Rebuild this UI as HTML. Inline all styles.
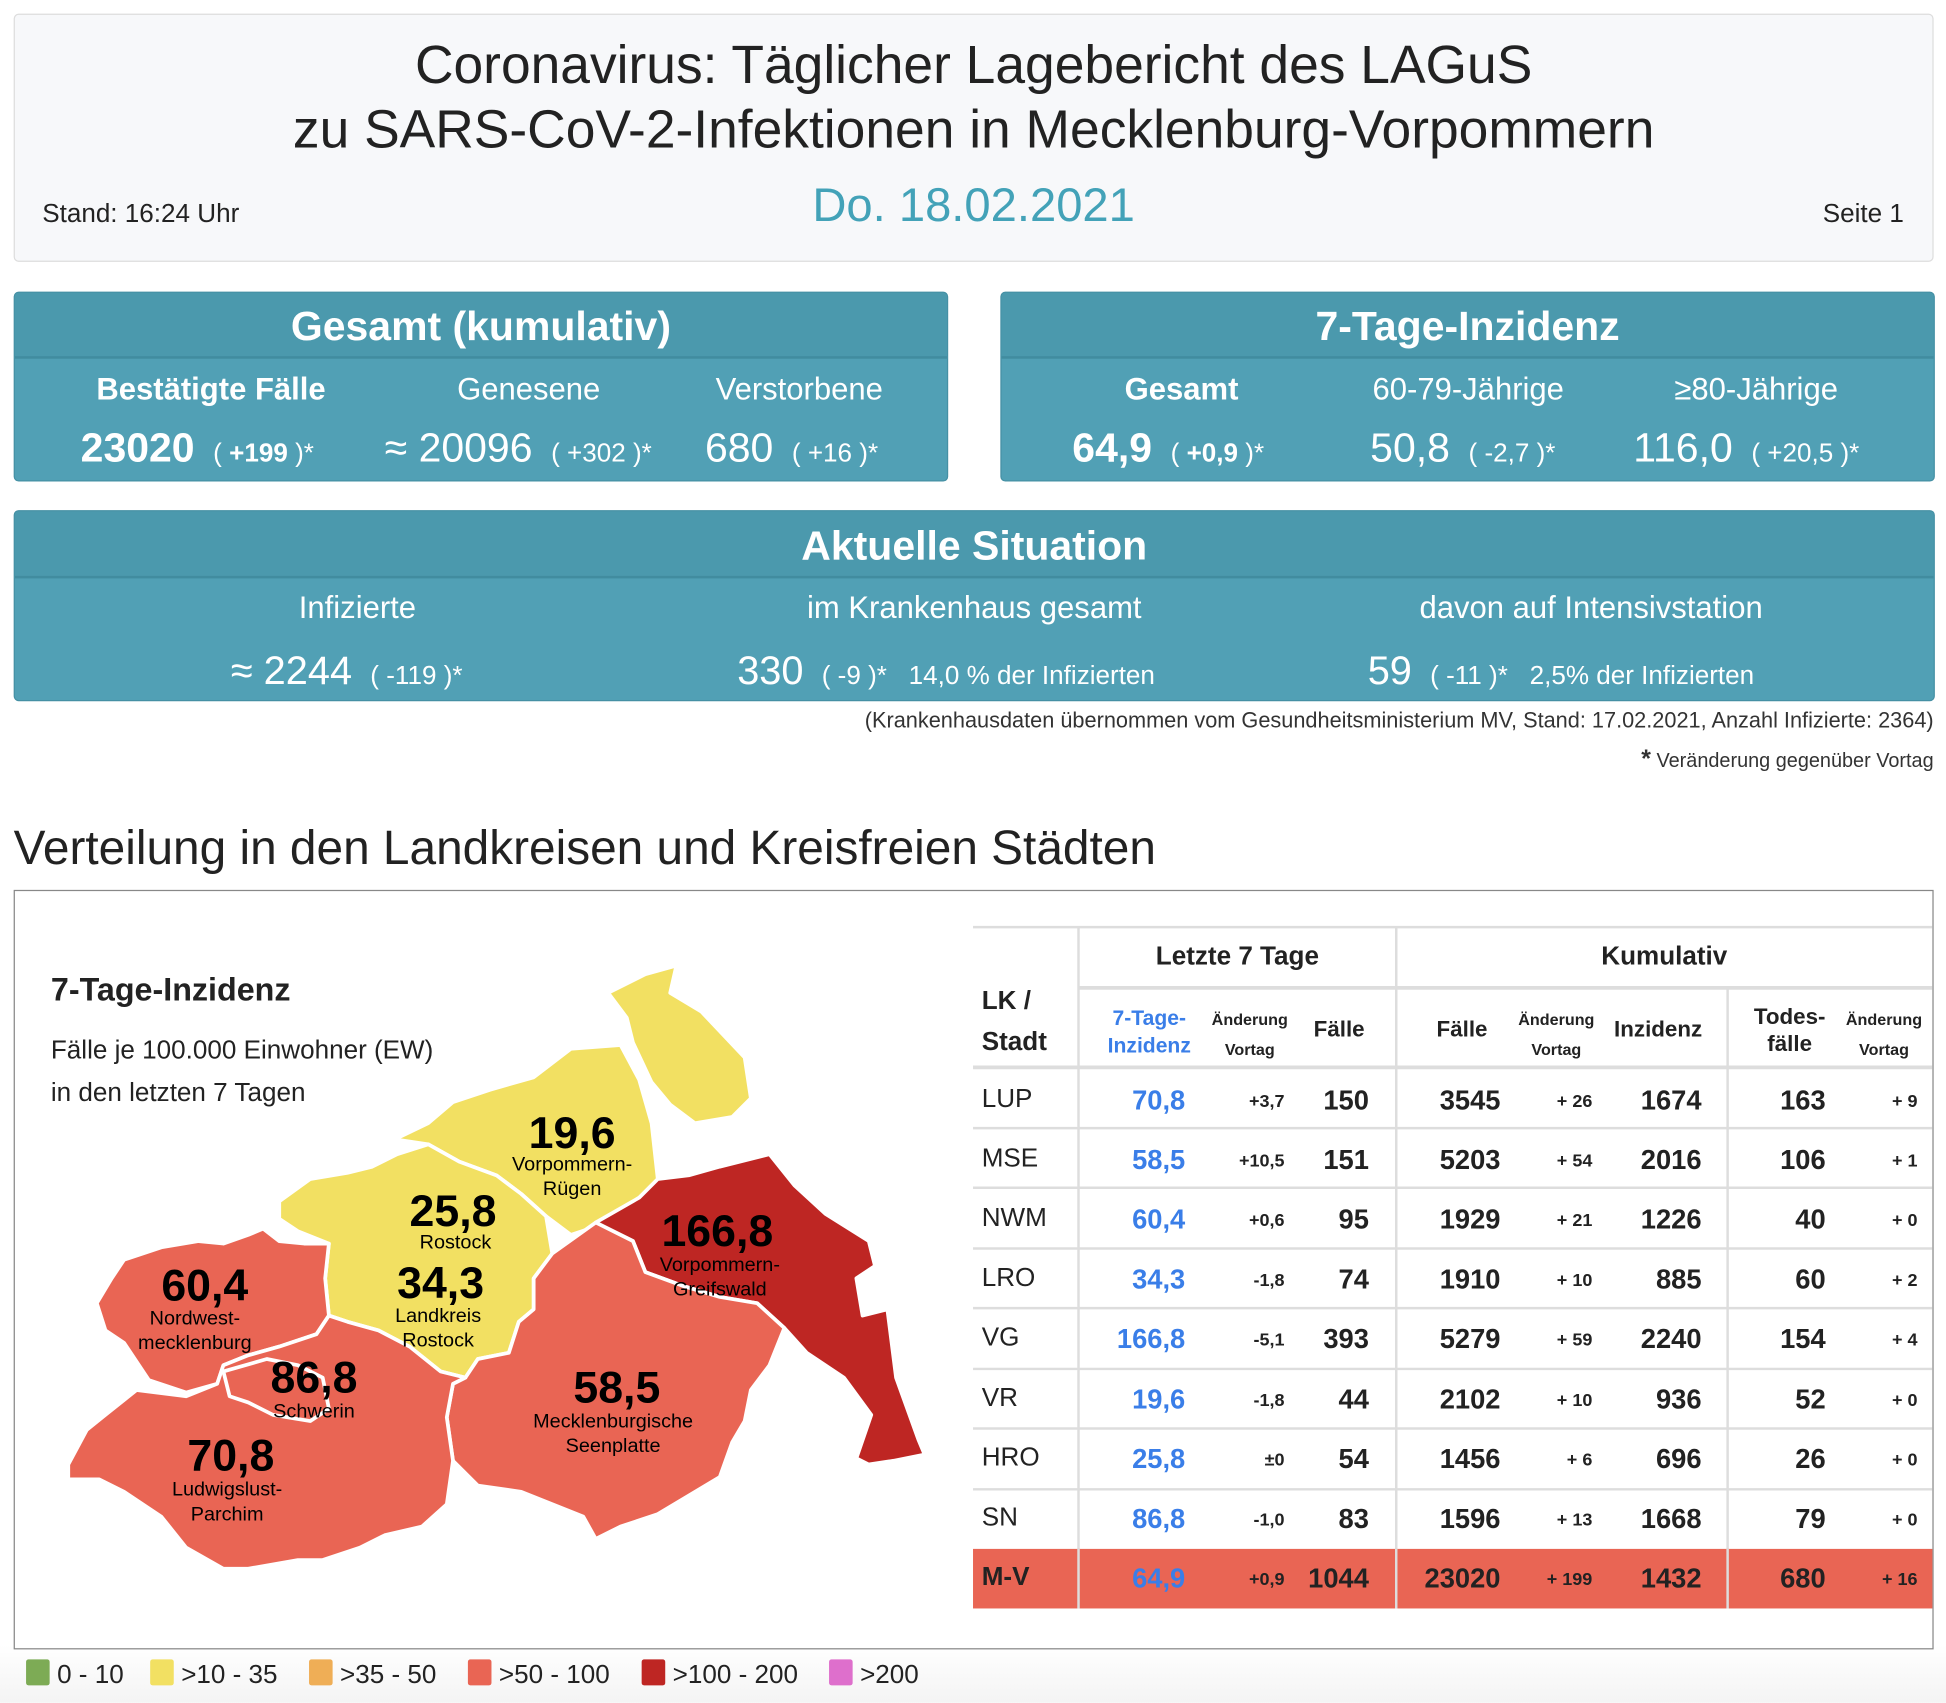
<!DOCTYPE html>
<html><head><meta charset="utf-8">
<style>
html,body{margin:0;padding:0;width:1946px;height:1702px;overflow:hidden;background:#fff;}
#w{position:absolute;left:0;top:0;width:1568px;height:1372px;transform:scale(1.2411);transform-origin:0 0;font-family:"Liberation Sans","DejaVu Sans",sans-serif;color:#222;background:linear-gradient(#fff 1325px,#f4f4f4 1372px);overflow:hidden;}
.a{position:absolute;white-space:nowrap;}
.box{position:absolute;background:#51a0b5;border-radius:4px;color:#fff;overflow:hidden;border:1px solid #4590a4;}
.hd{position:absolute;left:0;right:0;top:0;background:#4b99ad;border-bottom:2px solid #418c9f;text-align:center;font-weight:bold;font-size:33px;}
.c{position:absolute;text-align:center;white-space:nowrap;}
.t{position:absolute;white-space:nowrap;text-align:right;font-weight:bold;font-size:22px;}
.n{position:absolute;white-space:nowrap;text-align:right;font-size:14.5px;font-weight:bold;margin-top:-1px;}
.b{color:#3a7ee8;}
#rows{position:absolute;left:0;top:0;width:1568px;height:1372px;}
</style></head><body><div id="w">
<div class="a" style="left:11px;top:11px;width:1545px;height:198px;background:#f7f8fa;border:1px solid #ddd;border-radius:4px;"></div>
<div class="c" style="left:11px;width:1547px;top:27px;font-size:43px;line-height:52px;color:#222;">Coronavirus: Täglicher Lagebericht des LAGuS<br>zu SARS-CoV-2-Infektionen in Mecklenburg-Vorpommern</div>
<div class="c" style="left:11px;width:1547px;top:145px;font-size:38px;color:#43a2b8;">Do. 18.02.2021</div>
<div class="a" style="left:34px;top:161px;font-size:21px;">Stand: 16:24 Uhr</div>
<div class="a" style="right:34px;top:161px;font-size:21px;">Seite 1</div>

<div class="box" style="left:11px;top:235px;width:751px;height:151px;">
<div class="hd" style="height:51px;line-height:54px;">Gesamt (kumulativ)</div>
<div class="c" style="left:0;width:316px;top:64px;font-size:25px;font-weight:bold;">Bestätigte Fälle</div>
<div class="c" style="left:316px;width:196px;top:64px;font-size:25px;">Genesene</div>
<div class="c" style="left:532px;width:200px;top:64px;font-size:25px;">Verstorbene</div>
<div class="a" style="left:53px;top:106px;font-size:33px;font-weight:bold;">23020 <span style="font-size:21px;font-weight:normal;">&nbsp;( <b>+199</b> )*</span></div>
<div class="a" style="left:298px;top:106px;font-size:33px;">≈ 20096 <span style="font-size:21px;">&nbsp;( +302 )*</span></div>
<div class="a" style="left:556px;top:106px;font-size:33px;">680 <span style="font-size:21px;">&nbsp;( +16 )*</span></div>
</div>

<div class="box" style="left:806px;top:235px;width:751px;height:151px;">
<div class="hd" style="height:51px;line-height:54px;">7-Tage-Inzidenz</div>
<div class="c" style="left:45px;width:200px;top:64px;font-size:25px;font-weight:bold;">Gesamt</div>
<div class="c" style="left:276px;width:200px;top:64px;font-size:25px;">60-79-Jährige</div>
<div class="c" style="left:508px;width:200px;top:64px;font-size:25px;">≥80-Jährige</div>
<div class="a" style="left:57px;top:106px;font-size:33px;font-weight:bold;">64,9 <span style="font-size:21px;font-weight:normal;">&nbsp;( <b>+0,9</b> )*</span></div>
<div class="a" style="left:297px;top:106px;font-size:33px;">50,8 <span style="font-size:21px;">&nbsp;( -2,7 )*</span></div>
<div class="a" style="left:509px;top:106px;font-size:33px;">116,0 <span style="font-size:21px;">&nbsp;( +20,5 )*</span></div>
</div>

<div class="box" style="left:11px;top:411px;width:1546px;height:152px;">
<div class="hd" style="height:52px;line-height:56px;">Aktuelle Situation</div>
<div class="c" style="left:176px;width:200px;top:64px;font-size:25px;">Infizierte</div>
<div class="c" style="left:573px;width:400px;top:64px;font-size:25px;">im Krankenhaus gesamt</div>
<div class="c" style="left:1070px;width:400px;top:64px;font-size:25px;">davon auf Intensivstation</div>
<div class="a" style="left:174px;top:110px;font-size:32px;">≈ 2244 <span style="font-size:21px;">&nbsp;( -119 )*</span></div>
<div class="a" style="left:582px;top:110px;font-size:32px;">330 <span style="font-size:21px;">&nbsp;( -9 )* &nbsp;&nbsp;14,0 % der Infizierten</span></div>
<div class="a" style="left:1090px;top:110px;font-size:32px;">59 <span style="font-size:21px;">&nbsp;( -11 )* &nbsp;&nbsp;2,5% der Infizierten</span></div>
</div>
<div class="a" style="right:10px;top:570px;font-size:17.5px;color:#333;">(Krankenhausdaten übernommen vom Gesundheitsministerium MV, Stand: 17.02.2021, Anzahl Infizierte: 2364)</div>
<div class="a" style="right:10px;top:601px;font-size:16px;color:#333;"><b style="font-size:20px;">*</b> Veränderung gegenüber Vortag</div>

<div class="a" style="left:11px;top:662px;font-size:38.5px;color:#222;">Verteilung in den Landkreisen und Kreisfreien Städten</div>
<div class="a" style="left:11px;top:717px;width:1545px;height:610px;border:1px solid #888;background:#fff;"></div>

<div class="a" style="left:41px;top:782px;font-size:26px;font-weight:bold;color:#222;">7-Tage-Inzidenz</div>
<div class="a" style="left:41px;top:830px;font-size:21px;line-height:34px;color:#222;">Fälle je 100.000 Einwohner (EW)<br>in den letzten 7 Tagen</div>

<svg class="a" style="left:0;top:0;" width="1568" height="1372">
<g stroke="#fff" stroke-width="3" stroke-linejoin="round">
<polygon fill="#f2e062" points="490,800 520,785 545,778 540,800 565,815 600,852 605,885 590,900 560,905 540,890 525,872 510,840 505,820"/>
<polygon fill="#f2e062" points="318,918 345,905 365,888 395,878 430,868 460,845 500,842 515,870 525,905 530,950 515,965 490,985 460,995 440,980 420,962 400,947 370,936 345,922"/>
<polygon fill="#f2e062" points="225,968 250,950 280,945 300,940 320,930 345,922 370,936 400,947 420,962 440,980 445,1010 430,1030 430,1055 418,1065 410,1090 385,1095 375,1110 355,1105 330,1085 305,1072 280,1065 265,1060 262,1030 265,1002 240,992 225,982"/>
<polygon fill="#be2623" points="480,985 515,965 530,950 555,947 580,940 600,935 620,930 640,955 665,978 700,1000 705,1020 690,1030 695,1060 715,1055 722,1110 740,1160 745,1172 720,1177 700,1180 690,1175 702,1140 680,1110 650,1090 632,1070 610,1050 580,1045 550,1036 520,1025 510,1000"/>
<polygon fill="#e96554" points="445,1010 480,985 510,1000 520,1025 550,1036 580,1045 610,1050 632,1070 620,1100 605,1120 600,1145 590,1162 580,1190 560,1202 530,1220 500,1230 480,1240 470,1222 445,1212 420,1202 385,1197 365,1177 360,1142 365,1115 375,1110 385,1095 410,1090 418,1065 430,1055 430,1030"/>
<polygon fill="#e96554" points="78,1050 90,1030 100,1015 130,1005 160,1000 180,1002 200,995 212,990 225,1000 245,1002 265,1002 262,1030 265,1060 255,1075 225,1085 200,1092 180,1100 175,1115 150,1122 120,1112 110,1097 100,1082 85,1072"/>
<polygon fill="#e96554" points="55,1180 70,1152 85,1140 110,1120 150,1125 175,1115 180,1100 200,1092 225,1085 255,1075 265,1060 280,1065 305,1072 330,1085 355,1105 375,1110 365,1115 360,1142 365,1177 360,1212 340,1230 310,1237 290,1247 260,1257 240,1257 200,1264 180,1264 150,1247 130,1222 100,1202 80,1192 55,1192"/>
<polygon fill="#e96554" points="180,1105 215,1095 240,1100 260,1110 265,1135 250,1145 220,1140 200,1130 185,1125"/>
</g>
<g font-family="Liberation Sans, sans-serif" text-anchor="middle" fill="#000">
<text x="461" y="925" font-size="36" font-weight="bold">19,6</text>
<text x="461" y="943" font-size="16">Vorpommern-</text><text x="461" y="963" font-size="16">Rügen</text>
<text x="365" y="988" font-size="36" font-weight="bold">25,8</text>
<text x="367" y="1006" font-size="16">Rostock</text>
<text x="355" y="1046" font-size="36" font-weight="bold">34,3</text>
<text x="353" y="1065" font-size="16">Landkreis</text><text x="353" y="1085" font-size="16">Rostock</text>
<text x="578" y="1004" font-size="36" font-weight="bold">166,8</text>
<text x="580" y="1024" font-size="16">Vorpommern-</text><text x="580" y="1044" font-size="16">Greifswald</text>
<text x="165" y="1048" font-size="36" font-weight="bold">60,4</text>
<text x="157" y="1067" font-size="16">Nordwest-</text><text x="157" y="1087" font-size="16">mecklenburg</text>
<text x="253" y="1122" font-size="36" font-weight="bold">86,8</text>
<text x="253" y="1142" font-size="16">Schwerin</text>
<text x="497" y="1130" font-size="36" font-weight="bold">58,5</text>
<text x="494" y="1150" font-size="16">Mecklenburgische</text><text x="494" y="1170" font-size="16">Seenplatte</text>
<text x="186" y="1185" font-size="36" font-weight="bold">70,8</text>
<text x="183" y="1205" font-size="16">Ludwigslust-</text><text x="183" y="1225" font-size="16">Parchim</text>
</g>
<g font-family="Liberation Sans, sans-serif" font-size="21" fill="#222">
<rect x="21" y="1337" width="19" height="21" rx="2" fill="#7dab55"/><text x="46" y="1356">0 - 10</text>
<rect x="121" y="1337" width="19" height="21" rx="2" fill="#f2e062"/><text x="146" y="1356">&gt;10 - 35</text>
<rect x="249" y="1337" width="19" height="21" rx="2" fill="#efae56"/><text x="274" y="1356">&gt;35 - 50</text>
<rect x="377" y="1337" width="19" height="21" rx="2" fill="#e96554"/><text x="402" y="1356">&gt;50 - 100</text>
<rect x="517" y="1337" width="19" height="21" rx="2" fill="#be2623"/><text x="542" y="1356">&gt;100 - 200</text>
<rect x="668" y="1337" width="19" height="21" rx="2" fill="#de6fcc"/><text x="693" y="1356">&gt;200</text>
</g>
<g stroke="#ddd" stroke-width="2">
<line x1="784" y1="747" x2="1557" y2="747"/>
<line x1="869" y1="796" x2="1557" y2="796" stroke-width="3"/>
<line x1="784" y1="860" x2="1557" y2="860" stroke-width="3"/>
<line x1="784" y1="909" x2="1557" y2="909"/><line x1="784" y1="957" x2="1557" y2="957"/>
<line x1="784" y1="1006" x2="1557" y2="1006"/><line x1="784" y1="1054" x2="1557" y2="1054"/>
<line x1="784" y1="1103" x2="1557" y2="1103"/><line x1="784" y1="1151" x2="1557" y2="1151"/>
<line x1="784" y1="1200" x2="1557" y2="1200"/>
<line x1="869" y1="747" x2="869" y2="1248"/><line x1="1125" y1="747" x2="1125" y2="1248"/>
<line x1="1392" y1="796" x2="1392" y2="1248"/>
</g>
<rect x="784" y="1248" width="773" height="48" fill="#e96554"/>
<g stroke="#ddd" stroke-width="2"><line x1="869" y1="1248" x2="869" y2="1296"/><line x1="1125" y1="1248" x2="1125" y2="1296"/><line x1="1392" y1="1248" x2="1392" y2="1296"/></g>
</svg>

<div class="a" style="left:791px;top:790px;font-size:21px;font-weight:bold;line-height:33px;">LK /<br>Stadt</div>
<div class="c" style="left:869px;width:256px;top:759px;font-size:21px;font-weight:bold;">Letzte 7 Tage</div>
<div class="c" style="left:1125px;width:432px;top:759px;font-size:21px;font-weight:bold;">Kumulativ</div>
<div class="c b" style="left:880px;width:92px;top:810px;font-size:17px;font-weight:bold;line-height:22px;">7-Tage-<br>Inzidenz</div>
<div class="c" style="left:965px;width:84px;top:810px;font-size:13px;font-weight:bold;line-height:24px;">Änderung<br>Vortag</div>
<div class="c" style="left:1050px;width:58px;top:819px;font-size:18px;font-weight:bold;">Fälle</div>
<div class="c" style="left:1148px;width:60px;top:819px;font-size:18px;font-weight:bold;">Fälle</div>
<div class="c" style="left:1212px;width:84px;top:810px;font-size:13px;font-weight:bold;line-height:24px;">Änderung<br>Vortag</div>
<div class="c" style="left:1296px;width:80px;top:819px;font-size:18px;font-weight:bold;">Inzidenz</div>
<div class="c" style="left:1402px;width:80px;top:808px;font-size:18px;font-weight:bold;line-height:22px;">Todes-<br>fälle</div>
<div class="c" style="left:1476px;width:84px;top:810px;font-size:13px;font-weight:bold;line-height:24px;">Änderung<br>Vortag</div>

<div id="rows">
<div class="a" style="left:791px;top:874px;font-size:21px;">LUP</div><div class="t b" style="right:613px;top:874px;">70,8</div><div class="n" style="right:533px;top:881px;">+3,7</div><div class="t" style="right:465px;top:874px;">150</div><div class="t" style="right:359px;top:874px;">3545</div><div class="n" style="right:285px;top:881px;">+ 26</div><div class="t" style="right:197px;top:874px;">1674</div><div class="t" style="right:97px;top:874px;">163</div><div class="n" style="right:23px;top:881px;">+ 9</div>
<div class="a" style="left:791px;top:922px;font-size:21px;">MSE</div><div class="t b" style="right:613px;top:922px;">58,5</div><div class="n" style="right:533px;top:929px;">+10,5</div><div class="t" style="right:465px;top:922px;">151</div><div class="t" style="right:359px;top:922px;">5203</div><div class="n" style="right:285px;top:929px;">+ 54</div><div class="t" style="right:197px;top:922px;">2016</div><div class="t" style="right:97px;top:922px;">106</div><div class="n" style="right:23px;top:929px;">+ 1</div>
<div class="a" style="left:791px;top:970px;font-size:21px;">NWM</div><div class="t b" style="right:613px;top:970px;">60,4</div><div class="n" style="right:533px;top:977px;">+0,6</div><div class="t" style="right:465px;top:970px;">95</div><div class="t" style="right:359px;top:970px;">1929</div><div class="n" style="right:285px;top:977px;">+ 21</div><div class="t" style="right:197px;top:970px;">1226</div><div class="t" style="right:97px;top:970px;">40</div><div class="n" style="right:23px;top:977px;">+ 0</div>
<div class="a" style="left:791px;top:1018px;font-size:21px;">LRO</div><div class="t b" style="right:613px;top:1018px;">34,3</div><div class="n" style="right:533px;top:1025px;">-1,8</div><div class="t" style="right:465px;top:1018px;">74</div><div class="t" style="right:359px;top:1018px;">1910</div><div class="n" style="right:285px;top:1025px;">+ 10</div><div class="t" style="right:197px;top:1018px;">885</div><div class="t" style="right:97px;top:1018px;">60</div><div class="n" style="right:23px;top:1025px;">+ 2</div>
<div class="a" style="left:791px;top:1066px;font-size:21px;">VG</div><div class="t b" style="right:613px;top:1066px;">166,8</div><div class="n" style="right:533px;top:1073px;">-5,1</div><div class="t" style="right:465px;top:1066px;">393</div><div class="t" style="right:359px;top:1066px;">5279</div><div class="n" style="right:285px;top:1073px;">+ 59</div><div class="t" style="right:197px;top:1066px;">2240</div><div class="t" style="right:97px;top:1066px;">154</div><div class="n" style="right:23px;top:1073px;">+ 4</div>
<div class="a" style="left:791px;top:1115px;font-size:21px;">VR</div><div class="t b" style="right:613px;top:1115px;">19,6</div><div class="n" style="right:533px;top:1122px;">-1,8</div><div class="t" style="right:465px;top:1115px;">44</div><div class="t" style="right:359px;top:1115px;">2102</div><div class="n" style="right:285px;top:1122px;">+ 10</div><div class="t" style="right:197px;top:1115px;">936</div><div class="t" style="right:97px;top:1115px;">52</div><div class="n" style="right:23px;top:1122px;">+ 0</div>
<div class="a" style="left:791px;top:1163px;font-size:21px;">HRO</div><div class="t b" style="right:613px;top:1163px;">25,8</div><div class="n" style="right:533px;top:1170px;">±0</div><div class="t" style="right:465px;top:1163px;">54</div><div class="t" style="right:359px;top:1163px;">1456</div><div class="n" style="right:285px;top:1170px;">+ 6</div><div class="t" style="right:197px;top:1163px;">696</div><div class="t" style="right:97px;top:1163px;">26</div><div class="n" style="right:23px;top:1170px;">+ 0</div>
<div class="a" style="left:791px;top:1211px;font-size:21px;">SN</div><div class="t b" style="right:613px;top:1211px;">86,8</div><div class="n" style="right:533px;top:1218px;">-1,0</div><div class="t" style="right:465px;top:1211px;">83</div><div class="t" style="right:359px;top:1211px;">1596</div><div class="n" style="right:285px;top:1218px;">+ 13</div><div class="t" style="right:197px;top:1211px;">1668</div><div class="t" style="right:97px;top:1211px;">79</div><div class="n" style="right:23px;top:1218px;">+ 0</div>
<div class="a" style="left:791px;top:1259px;font-size:21px;font-weight:bold;">M-V</div><div class="t b" style="right:613px;top:1259px;">64,9</div><div class="n" style="right:533px;top:1266px;">+0,9</div><div class="t" style="right:465px;top:1259px;">1044</div><div class="t" style="right:359px;top:1259px;">23020</div><div class="n" style="right:285px;top:1266px;">+ 199</div><div class="t" style="right:197px;top:1259px;">1432</div><div class="t" style="right:97px;top:1259px;">680</div><div class="n" style="right:23px;top:1266px;">+ 16</div>
</div>
</div></body></html>
